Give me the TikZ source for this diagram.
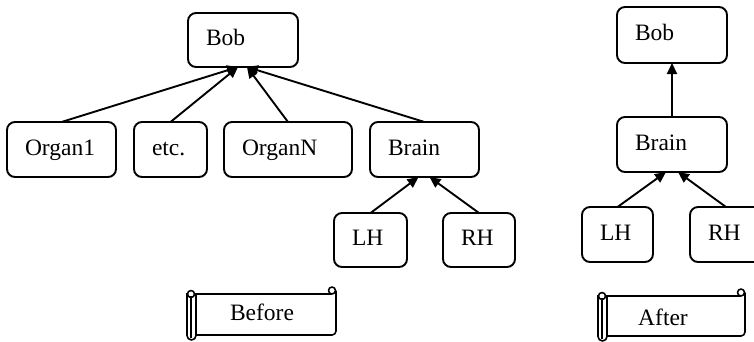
\documentclass[tikz,border=0pt]{standalone}
\usepackage{fontspec}
\setmainfont{Liberation Serif}
\usetikzlibrary{arrows.meta}

% Horizontal scroll banner: #1 left x of body, #2 right x, #3 top y, #4 bottom y
\newcommand\scrollbanner[4]{%
  % body: top edge, curl at top right, right and bottom edges
  \draw[scrollline] (#1,#3) -- ({#2-4},#3);
  \draw[scrollline] ({#2-4},{#3-3.5}) circle[radius=3.5bp];
  \draw[scrollline, rounded corners=4bp] (#2,{#3-3.5}) -- (#2,#4) -- (#1,#4);
  % rolled left edge
  \draw[scrollline, rounded corners=4.5bp] (#1,{#3-1}) -- (#1,{#4+5}) -- ({#1-9},{#4+5}) -- ({#1-9},{#3-1});
  \draw[scrollline] ({#1-5},{#3+2}) -- ({#1-5},{#4+3});
  \draw[scrollline] ({#1-5},{#3}) circle[radius=3.5bp];
}

\begin{document}
\begin{tikzpicture}[x=1bp, y=-1bp,
  box/.style={draw, line width=1.9bp, rounded corners=8bp, minimum height=55bp,
    inner xsep=18bp, inner ysep=0pt, outer sep=0pt, align=left,
    font=\fontsize{23.5bp}{28bp}\selectfont, text height=16bp, text depth=5bp},
  caption/.style={inner sep=0pt, font=\fontsize{23.5bp}{28bp}\selectfont,
    text height=16bp, text depth=5bp},
  link/.style={line width=1.9bp, -{Triangle[length=11bp,width=10bp]}},
  scrollline/.style={line width=1.6bp, line join=round}]
\useasboundingbox (0,0) rectangle (754,341);
\clip (0,0) rectangle (754,341);

% ---------- Before ----------
\node[box, text width=74bp, minimum height=54bp] (bobA) at (243,40) {Bob};
\node[box, text width=73bp] (organ1) at (61.5,149.5) {Organ1};
\node[box, text width=37bp] (etc) at (170.5,149.5) {etc.};
\node[box, text width=92bp] (organN) at (288,149.5) {OrganN};
\node[box, text width=73bp] (brainA) at (424.5,149.5) {Brain};
\node[box, text width=37bp, minimum height=54bp] (lhA) at (370.5,240) {LH};
\node[box, text width=36bp, minimum height=54bp] (rhA) at (479,240) {RH};

\draw[link] (organ1.north) -- ([xshift=-5bp]bobA.south);
\draw[link] (etc.north) -- ([xshift=-5bp]bobA.south);
\draw[link] (organN.north) -- ([xshift=4bp]bobA.south);
\draw[link] (brainA.north) -- ([xshift=4bp]bobA.south);
\draw[link] (lhA.north) -- ([xshift=-6bp]brainA.south);
\draw[link] (rhA.north) -- ([xshift=5bp]brainA.south);

\scrollbanner{196}{336}{294}{335}
\node[caption] (before) at (262,314.5) {Before};

% ---------- After ----------
\node[box, text width=74bp, minimum height=56bp] (bobB) at (672,35) {Bob};
\node[box, text width=74bp] (brainB) at (672,144.5) {Brain};
\node[box, text width=35bp] (lhB) at (617.5,234.5) {LH};
\node[box, text width=36bp] (rhB) at (726,234.5) {RH};

\draw[link] (brainB.north) -- (bobB.south);
\draw[link] (lhB.north) -- ([xshift=-6bp]brainB.south);
\draw[link] (rhB.north) -- ([xshift=6bp]brainB.south);

\scrollbanner{607}{745}{296}{336}
\node[caption] (after) at (663,319.5) {After};
\end{tikzpicture}
\end{document}
